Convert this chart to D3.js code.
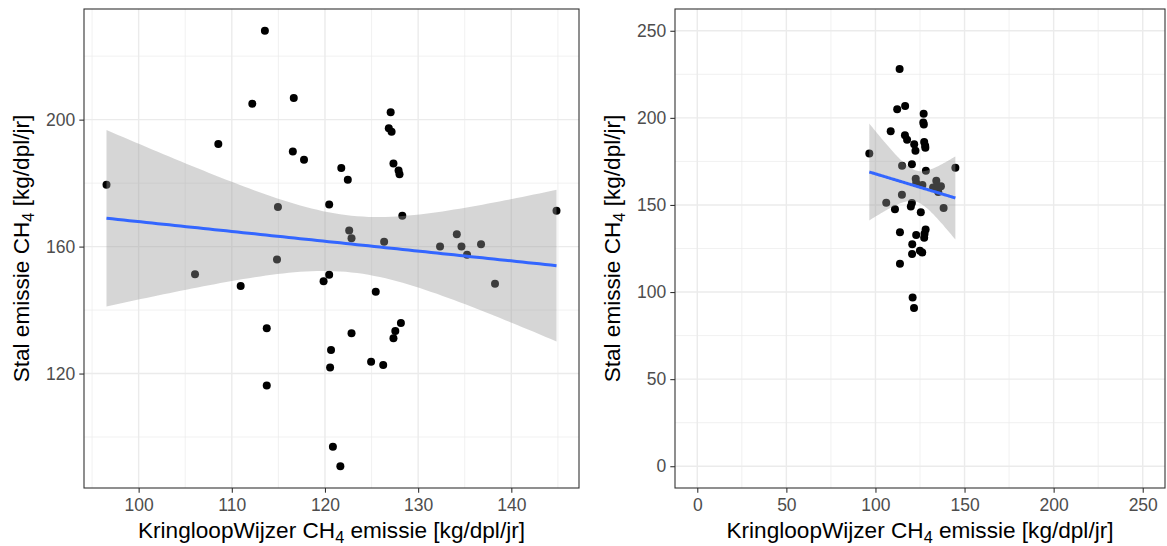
<!DOCTYPE html>
<html>
<head>
<meta charset="utf-8">
<script src="https://cdn.jsdelivr.net/npm/d3@7"></script>
<style>
  html, body { margin: 0; padding: 0; background: #fff; }
  svg { display: block; }
  text { font-family: "Liberation Sans", Arial, sans-serif; }
</style>
</head>
<body>
<svg id="chart" width="1167" height="546"></svg>
<script>
// KringloopWijzer estimate (x) versus measured barn emission (y), CH4 per dairy cow per year
const kwEmission = [
  96.55, 106.05, 108.55, 110.95, 112.2, 113.55, 113.75, 113.75, 114.85, 114.95,
  116.55, 116.65, 117.75, 119.85, 120.45, 120.45, 120.65, 120.55, 120.85, 121.65,
  121.75, 122.45, 122.6, 122.85, 124.95, 122.85, 125.45, 126.25, 126.35, 126.85,
  127.05, 127.15, 127.35, 127.35, 127.55, 127.9, 128.0, 128.15, 128.3, 132.35,
  134.15, 134.65, 135.25, 136.75, 138.25, 144.85
];
const stalEmission = [
  179.5, 151.3, 192.3, 147.6, 205.0, 228.0, 134.3, 116.2, 155.9, 172.5,
  190.0, 206.8, 187.4, 149.1, 151.1, 173.3, 127.4, 121.9, 96.9, 90.8,
  184.8, 181.1, 165.1, 162.6, 123.7, 132.7, 145.8, 122.7, 161.5, 197.3,
  202.3, 196.2, 186.2, 131.1, 133.4, 184.0, 182.8, 135.9, 169.7, 160.0,
  163.9, 160.0, 157.4, 160.7, 148.3, 171.3
];

// axis breaks
const zoomXTicks = [100, 110, 120, 130, 140];
const zoomYTicks = [120, 160, 200];
const fullTicks = [0, 50, 100, 150, 200, 250];
const fullLimits = [0, 250];

const xTitleParts = ["KringloopWijzer CH", "4", " emissie [kg/dpl/jr]"];
const yTitleParts = ["Stal emissie CH", "4", " [kg/dpl/jr]"];

const data = kwEmission.map((x, i) => ({ x, y: stalEmission[i] }));

// ---- ordinary least squares fit with 95% confidence band ----
function tQuantile975(df) {
  const z = 1.959963985;
  const z3 = z ** 3, z5 = z ** 5, z7 = z ** 7;
  return z + (z3 + z) / (4 * df) + (5 * z5 + 16 * z3 + 3 * z) / (96 * df * df)
    + (3 * z7 + 19 * z5 + 17 * z3 - 15 * z) / (384 * df ** 3);
}
const n = data.length;
const xbar = d3.mean(data, d => d.x);
const ybar = d3.mean(data, d => d.y);
const sxx = d3.sum(data, d => (d.x - xbar) ** 2);
const sxy = d3.sum(data, d => (d.x - xbar) * (d.y - ybar));
const slope = sxy / sxx;
const intercept = ybar - slope * xbar;
const sse = d3.sum(data, d => (d.y - (intercept + slope * d.x)) ** 2);
const sigma = Math.sqrt(sse / (n - 2));
const tCrit = tQuantile975(n - 2);
const [xMin, xMax] = d3.extent(data, d => d.x);
const fit = d3.range(80).map(i => {
  const x = xMin + (xMax - xMin) * i / 79;
  const y = intercept + slope * x;
  const se = sigma * Math.sqrt(1 / n + (x - xbar) ** 2 / sxx);
  return { x, y, lo: y - tCrit * se, hi: y + tCrit * se };
});

// ---- layout ----
const svg = d3.select("#chart");
const tickFont = 17.5;
const titleFont = 22.6;
const expand = ([a, b]) => { const d = (b - a) * 0.05; return [a - d, b + d]; };
function minorBreaks(major, domain) {
  const step = major[1] - major[0];
  const out = [];
  for (let v = major[0] - step / 2; v <= major[major.length - 1] + step / 2 + 1e-9; v += step) {
    if (v >= domain[0] && v <= domain[1]) out.push(v);
  }
  return out;
}

const panels = [
  {
    id: "zoomed", left: 84, right: 579, top: 9, bottom: 488,
    xDomain: expand(d3.extent(data, d => d.x)),
    yDomain: expand(d3.extent(data, d => d.y)),
    xTicks: zoomXTicks, yTicks: zoomYTicks, yTitleBaseline: 29
  },
  {
    id: "full", left: 675, right: 1165, top: 9, bottom: 488,
    xDomain: expand(fullLimits), yDomain: expand(fullLimits),
    xTicks: fullTicks, yTicks: fullTicks, yTitleBaseline: 620
  }
];

function titleText(g, parts) {
  const t = g.append("text").attr("fill", "#000").attr("font-size", titleFont);
  t.append("tspan").text(parts[0]);
  t.append("tspan").attr("font-size", titleFont * 0.72).attr("dy", 5).text(parts[1]);
  t.append("tspan").attr("dy", -5).text(parts[2]);
  return t;
}

panels.forEach(p => {
  const x = d3.scaleLinear().domain(p.xDomain).range([p.left, p.right]);
  const y = d3.scaleLinear().domain(p.yDomain).range([p.bottom, p.top]);
  const g = svg.append("g").attr("class", "panel-" + p.id);

  g.append("clipPath").attr("id", "clip-" + p.id)
    .append("rect").attr("x", p.left).attr("y", p.top)
    .attr("width", p.right - p.left).attr("height", p.bottom - p.top);

  const grid = g.append("g");
  minorBreaks(p.xTicks, p.xDomain).forEach(v => grid.append("line")
    .attr("x1", x(v)).attr("x2", x(v)).attr("y1", p.top).attr("y2", p.bottom)
    .attr("stroke", "#EBEBEB").attr("stroke-width", 0.7));
  minorBreaks(p.yTicks, p.yDomain).forEach(v => grid.append("line")
    .attr("y1", y(v)).attr("y2", y(v)).attr("x1", p.left).attr("x2", p.right)
    .attr("stroke", "#EBEBEB").attr("stroke-width", 0.7));
  p.xTicks.forEach(v => grid.append("line")
    .attr("x1", x(v)).attr("x2", x(v)).attr("y1", p.top).attr("y2", p.bottom)
    .attr("stroke", "#EBEBEB").attr("stroke-width", 1.4));
  p.yTicks.forEach(v => grid.append("line")
    .attr("y1", y(v)).attr("y2", y(v)).attr("x1", p.left).attr("x2", p.right)
    .attr("stroke", "#EBEBEB").attr("stroke-width", 1.4));

  const marks = g.append("g").attr("clip-path", `url(#clip-${p.id})`);
  marks.selectAll("circle").data(data).join("circle")
    .attr("cx", d => x(d.x)).attr("cy", d => y(d.y)).attr("r", 4)
    .attr("fill", "#000");

  marks.append("path").datum(fit)
    .attr("d", d3.area().x(d => x(d.x)).y0(d => y(d.lo)).y1(d => y(d.hi)))
    .attr("fill", "#999999").attr("fill-opacity", 0.4);
  marks.append("path").datum(fit)
    .attr("d", d3.line().x(d => x(d.x)).y(d => y(d.y)))
    .attr("fill", "none").attr("stroke", "#3366FF").attr("stroke-width", 3);

  g.append("rect").attr("x", p.left).attr("y", p.top)
    .attr("width", p.right - p.left).attr("height", p.bottom - p.top)
    .attr("fill", "none").attr("stroke", "#333333").attr("stroke-width", 1.1);

  const xAxis = g.append("g").attr("transform", `translate(0,${p.bottom})`)
    .call(d3.axisBottom(x).tickValues(p.xTicks).tickSize(4.7).tickPadding(5.5));
  const yAxis = g.append("g").attr("transform", `translate(${p.left},0)`)
    .call(d3.axisLeft(y).tickValues(p.yTicks).tickSize(4.7).tickPadding(4));
  [xAxis, yAxis].forEach(a => {
    a.select(".domain").remove();
    a.selectAll(".tick line").attr("stroke", "#333333").attr("stroke-width", 1.1);
    a.selectAll(".tick text").attr("fill", "#4D4D4D").attr("font-size", tickFont)
      .attr("font-family", "Liberation Sans, Arial, sans-serif");
  });

  titleText(g, xTitleParts)
    .attr("x", (p.left + p.right) / 2).attr("y", 537.5).attr("text-anchor", "middle");
  titleText(g, yTitleParts)
    .attr("text-anchor", "middle")
    .attr("transform", `translate(${p.yTitleBaseline},${(p.top + p.bottom) / 2}) rotate(-90)`);
});
</script>
</body>
</html>
